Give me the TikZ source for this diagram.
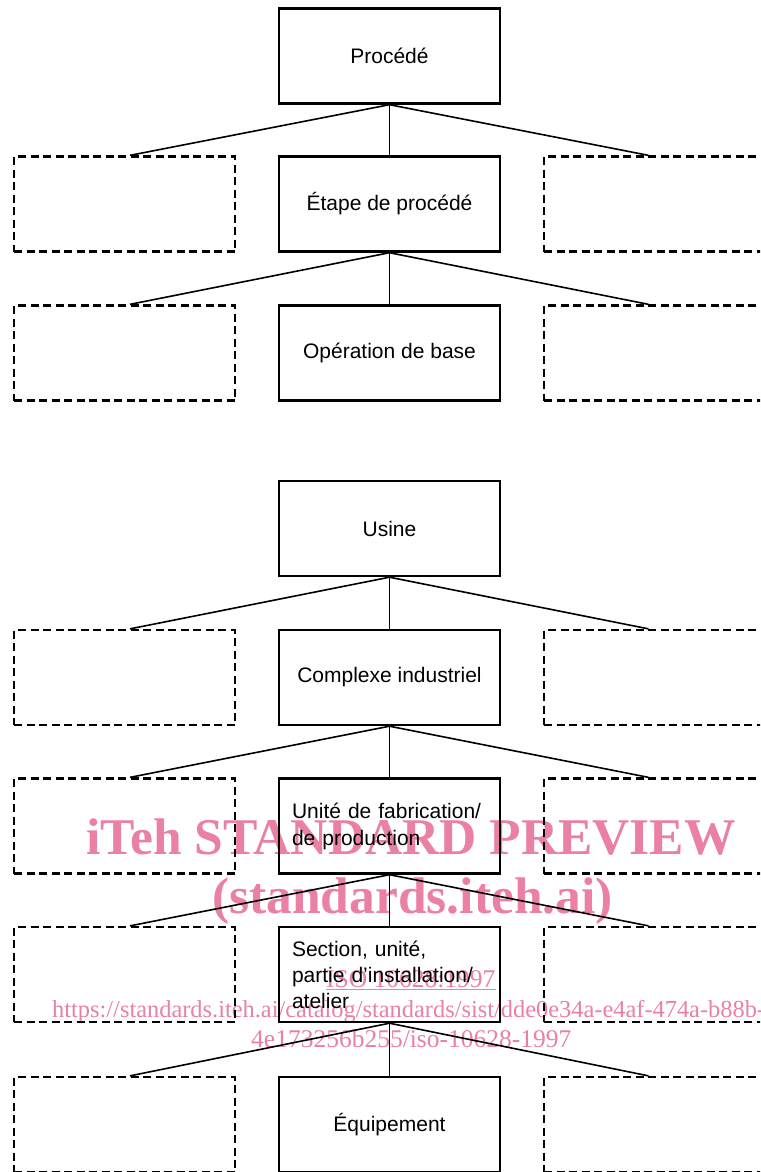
\documentclass[tikz,border=0pt]{standalone}
\usepackage{fontspec}
\setmainfont{Liberation Sans}
\newfontfamily\wmfont{Liberation Serif}
\definecolor{wmpink}{RGB}{234,128,163}
\tikzset{
  box/.style={draw, line width=2.4pt, minimum width=221pt, minimum height=95pt, inner sep=0pt, font=\fontsize{21}{27}\selectfont},
  ghost/.style={draw, line width=2.3pt, dash pattern=on 8pt off 4.5pt, minimum width=221pt, minimum height=95pt, inner sep=0pt},
  fan/.style={line width=1.6pt},
  stem/.style={line width=1pt},
  wm/.style={anchor=base west, inner sep=0pt, text=wmpink},
  wmbig/.style={wm, font=\wmfont\bfseries\fontsize{51.5}{52}\selectfont},
  wmsmall/.style={wm, font=\wmfont\fontsize{25.5}{26}\selectfont}
}
\begin{document}
\begin{tikzpicture}[x=1pt,y=-1pt]
\useasboundingbox (0,0) rectangle (760,1172);
\clip (0,0) rectangle (760,1172);

% watermark (drawn first, under the drawing)
\node[wmbig] (w1) at (86,854) {iTeh STANDARD PREVIEW};
\node[wmbig] (w2) at (212,913) {(standards.iteh.ai)};
\node[wmsmall] (w3) at (326,987) {\underline{ISO 10628:1997}};
\node[wmsmall, font=\wmfont\fontsize{24.4}{26}\selectfont] (w4) at (52,1017) {https://standards.iteh.ai/catalog/standards/sist/dde0e34a-e4af-474a-b88b-};
\node[wmsmall] (w5) at (251,1047) {4e173256b255/iso-10628-1997};

% first diagram
\node[box] (a1) at (389.5,56) {Procédé};
\node[box] (a2) at (389.5,204) {Étape de procédé};
\node[box] (a3) at (389.5,353) {Opération de base};
\node[ghost] (a2-l) at (124.5,204) {};
\node[ghost] (a2-r) at (654.5,204) {};
\node[ghost] (a3-l) at (124.5,353) {};
\node[ghost] (a3-r) at (654.5,353) {};

% second diagram
\node[box] (b1) at (389.5,528.5) {Usine};
\node[box] (b2) at (389.5,677.5) {Complexe industriel};
\node[box, align=left, text width=195pt] (b3) at (389.5,826) {Unité de fabrication/\\de production};
\node[box, align=left, text width=195pt, font=\fontsize{21}{26}\selectfont] (b4) at (389.5,974.5) {Section, unité,\\partie d’installation/\\atelier};
\node[box] (b5) at (389.5,1124.5) {Équipement};
\foreach \r/\y in {b2/677.5, b3/826, b4/974.5, b5/1124.5} {
  \node[ghost] (\r-l) at (124.5,\y) {};
  \node[ghost] (\r-r) at (654.5,\y) {};
}

% connectors
\foreach \p/\c in {a1/a2, a2/a3, b1/b2, b2/b3, b3/b4, b4/b5} {
  \draw[stem] (\p.south) -- (\c.north);
  \draw[fan] (\p.south) -- ([xshift=5.5pt]\c-l.north);
  \draw[fan] (\p.south) -- ([xshift=-6pt]\c-r.north);
}
\end{tikzpicture}
\end{document}
